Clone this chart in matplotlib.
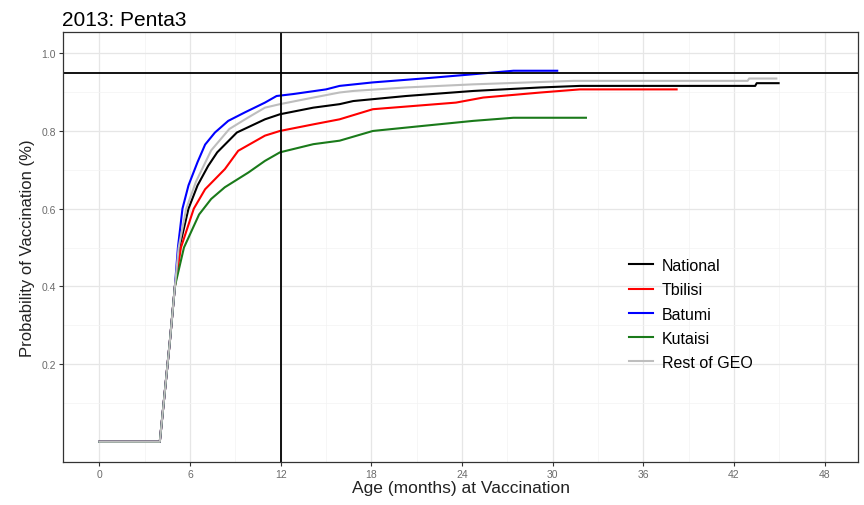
import matplotlib
matplotlib.use("Agg")
import matplotlib.pyplot as plt
from matplotlib.ticker import MultipleLocator

plt.rcParams["font.family"] = ["Liberation Sans", "DejaVu Sans"]

# Cumulative probability of vaccination by age (months).
national_age = [0, 4.0, 4.67, 5.0, 5.3, 5.9, 6.5, 7.2, 7.8, 9.1, 10.96, 11.95, 14.16,
                15.9, 16.8, 20.3, 24.75, 29.2, 31.8, 43.4, 43.5, 44.95]
national_p = [0, 0, 0.26, 0.40, 0.50, 0.60, 0.66, 0.71, 0.745, 0.796, 0.830, 0.843, 0.860,
              0.869, 0.877, 0.890, 0.903, 0.912, 0.916, 0.916, 0.923, 0.923]

tbilisi_age = [0, 4.0, 4.67, 5.0, 5.4, 6.25, 7.0, 8.31, 9.19, 10.96, 11.95, 14.16,
               15.9, 18.1, 23.6, 25.4, 29.2, 31.8, 38.2]
tbilisi_p = [0, 0, 0.26, 0.40, 0.50, 0.60, 0.65, 0.702, 0.749, 0.788, 0.800, 0.817,
             0.830, 0.856, 0.873, 0.886, 0.899, 0.907, 0.907]

batumi_age = [0, 4.0, 4.67, 5.0, 5.2, 5.5, 5.9, 6.5, 7.0, 7.65, 8.53, 9.64, 10.96,
              11.73, 12.83, 15.0, 15.9, 18.1, 21.4, 24.75, 27.4, 30.3]
batumi_p = [0, 0, 0.26, 0.40, 0.50, 0.60, 0.66, 0.72, 0.765, 0.796, 0.826, 0.848, 0.873,
            0.890, 0.895, 0.907, 0.916, 0.925, 0.935, 0.946, 0.955, 0.955]

kutaisi_age = [0, 4.0, 4.67, 5.0, 5.6, 6.6, 7.4, 8.3, 9.86, 10.96, 11.95, 14.16,
               15.9, 18.1, 21.4, 24.75, 27.4, 32.2]
kutaisi_p = [0, 0, 0.26, 0.40, 0.50, 0.585, 0.625, 0.655, 0.693, 0.723, 0.745, 0.766,
             0.775, 0.800, 0.813, 0.826, 0.834, 0.834]

rest_age = [0, 4.0, 4.67, 5.0, 5.25, 5.75, 6.4, 7.4, 8.6, 9.86, 10.96, 11.95, 14.16,
            15.9, 16.8, 20.3, 24.75, 31.4, 42.9, 43.0, 44.8]
rest_p = [0, 0, 0.26, 0.40, 0.50, 0.60, 0.67, 0.75, 0.805, 0.835, 0.860, 0.869, 0.886,
          0.899, 0.903, 0.912, 0.920, 0.929, 0.929, 0.935, 0.935]

series = [
    ("National", national_age, national_p, "black"),
    ("Tbilisi", tbilisi_age, tbilisi_p, "red"),
    ("Batumi", batumi_age, batumi_p, "blue"),
    ("Kutaisi", kutaisi_age, kutaisi_p, "#1a7a1a"),
    ("Rest of GEO", rest_age, rest_p, "#bebebe"),
]

TARGET = 0.95
CUTOFF_AGE = 12


def main():
    fig = plt.figure(figsize=(8.64, 5.06), dpi=100)
    ax = fig.add_axes([0.073, 0.085, 0.92, 0.85])

    # Grey reference group is drawn last, so it sits on top at age 0-4.
    for name, age, p, color in series:
        ax.plot(age, p, color=color, lw=1.5, label=name)

    ax.axhline(TARGET, color="black", lw=1.3)
    ax.axvline(CUTOFF_AGE, color="black", lw=1.3)

    ax.set_xlim(-2.4, 50.2)
    ax.set_ylim(-0.052, 1.055)
    ax.set_xticks(range(0, 49, 6))
    ax.set_yticks([0.2, 0.4, 0.6, 0.8, 1.0])
    ax.xaxis.set_minor_locator(MultipleLocator(3))
    ax.set_yticks([0.1, 0.3, 0.5, 0.7, 0.9], minor=True)

    ax.grid(which="major", color="#e6e6e6", lw=0.9)
    ax.grid(which="minor", color="#f3f3f3", lw=0.5)
    ax.set_axisbelow(True)
    ax.tick_params(which="minor", length=0)
    ax.tick_params(which="major", length=3, color="#333333", labelsize=7.5,
                   labelcolor="#6b6b6b", pad=2)
    for s in ax.spines.values():
        s.set_color("#333333")
        s.set_linewidth(0.9)

    ax.set_xlabel("Age (months) at Vaccination", fontsize=12.5, color="#222222", labelpad=1)
    ax.set_ylabel("Probability of Vaccination (%)", fontsize=12, color="#222222", labelpad=5)
    ax.set_title("2013: Penta3", loc="left", fontsize=15, x=-0.001, pad=5)

    ax.legend(loc="center", bbox_to_anchor=(0.79, 0.344), frameon=False,
              fontsize=11.5, handlelength=1.5, labelspacing=0.58, handletextpad=0.55)

    fig.savefig("out.png", dpi=100)


if __name__ == "__main__":
    main()
